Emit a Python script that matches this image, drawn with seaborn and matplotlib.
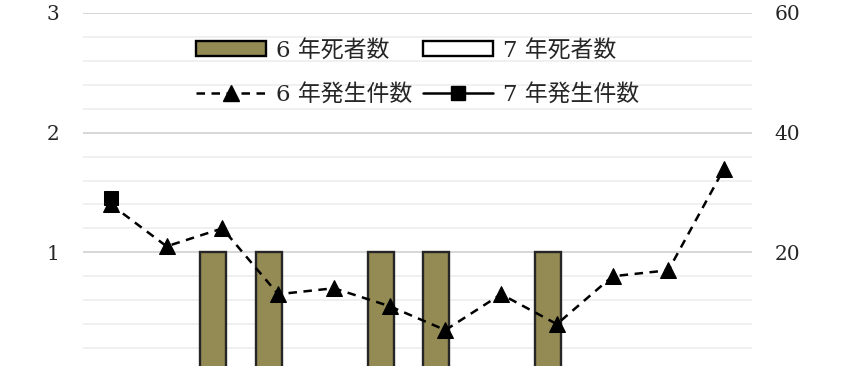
import numpy as np
import pandas as pd
import matplotlib
matplotlib.use("Agg")
import matplotlib.pyplot as plt
from matplotlib.patches import Patch
from matplotlib.lines import Line2D
from matplotlib.ticker import MultipleLocator
import seaborn as sns

# ---- data ----
months = list(range(1, 13))
deaths_r6 = [0, 0, 1, 1, 0, 1, 1, 0, 1, 0, 0, 0]
deaths_r7 = [0]
cases_r6 = [28, 21, 24, 13, 14, 11, 7, 13, 8, 16, 17, 34]
cases_r7 = [29]

labels = ["6 年死者数", "7 年死者数", "6 年発生件数", "7 年発生件数"]
left_ticks = [1, 2, 3]
right_ticks = [20, 40, 60]

sns.set_theme(style="white")
plt.rcParams["font.family"] = ["DejaVu Serif", "Noto Sans CJK JP"]

olive = "#948a54"
edge = "#262626"
dash = (0, (3.4, 2.6))

fig = plt.figure(figsize=(8.46, 3.66), dpi=100)
ax = fig.add_axes([83 / 846, -6 / 366, 669 / 846, 0.9809])

pos = np.arange(len(months))
df6 = pd.DataFrame({"x": pos - 0.16, "y": deaths_r6})
sns.barplot(data=df6, x="x", y="y", native_scale=True, width=0.466,
            color=olive, edgecolor=edge, linewidth=1.7, saturation=1,
            ax=ax, zorder=2)
df7 = pd.DataFrame({"x": pos[:len(deaths_r7)] + 0.16, "y": deaths_r7})
sns.barplot(data=df7, x="x", y="y", native_scale=True, width=0.466,
            color="white", edgecolor="black", linewidth=1.7, saturation=1,
            ax=ax, zorder=2)

ax.set_xlim(-0.5, 11.5)
ax.set_ylim(0, 3)
ax.set_yticks(left_ticks)
ax.yaxis.set_minor_locator(MultipleLocator(0.2))
ax.grid(which="major", axis="y", color="#d4d4d4", linewidth=1.3, zorder=0)
ax.grid(which="minor", axis="y", color="#efefef", linewidth=1.3, zorder=0)
ax.set_axisbelow(True)
ax.set_xticks([])
ax.set_xlabel("")
ax.set_ylabel("")
ax.tick_params(axis="y", which="both", length=0, pad=17, labelsize=14.5)
for s in ax.spines.values():
    s.set_visible(False)

ax2 = ax.twinx()
d6 = pd.DataFrame({"x": pos, "y": cases_r6})
sns.lineplot(data=d6, x="x", y="y", ax=ax2, color="black", linewidth=1.8,
             linestyle=dash, marker="^", markersize=11.5,
             markeredgecolor="black", markerfacecolor="black")
d7 = pd.DataFrame({"x": pos[:len(cases_r7)], "y": cases_r7})
sns.lineplot(data=d7, x="x", y="y", ax=ax2, color="black", linewidth=1.8,
             marker="s", markersize=10, markeredgecolor="black",
             markerfacecolor="black")
ax2.set_xlim(-0.5, 11.5)
ax2.set_ylim(0, 60)
ax2.set_yticks(right_ticks)
ax2.grid(False)
ax2.set_xlabel("")
ax2.set_ylabel("")
ax2.tick_params(axis="y", length=0, pad=16, labelsize=14.5)
for s in ax2.spines.values():
    s.set_visible(False)

handles = [
    Patch(facecolor=olive, edgecolor="black", linewidth=1.7),
    Line2D([], [], color="black", linewidth=1.8, linestyle=dash,
           marker="^", markersize=11.5),
    Patch(facecolor="white", edgecolor="black", linewidth=1.7),
    Line2D([], [], color="black", linewidth=1.8, marker="s", markersize=10),
]
hl = [labels[0], labels[2], labels[1], labels[3]]
ax2.legend(handles, hl, ncol=2, loc="center", bbox_to_anchor=(0.5, 0.834),
           frameon=False, fontsize=16.5, handlelength=3.05, handleheight=0.65,
           handletextpad=0.44, columnspacing=0.45, labelspacing=0.97)

fig.savefig("out.png", dpi=100)
